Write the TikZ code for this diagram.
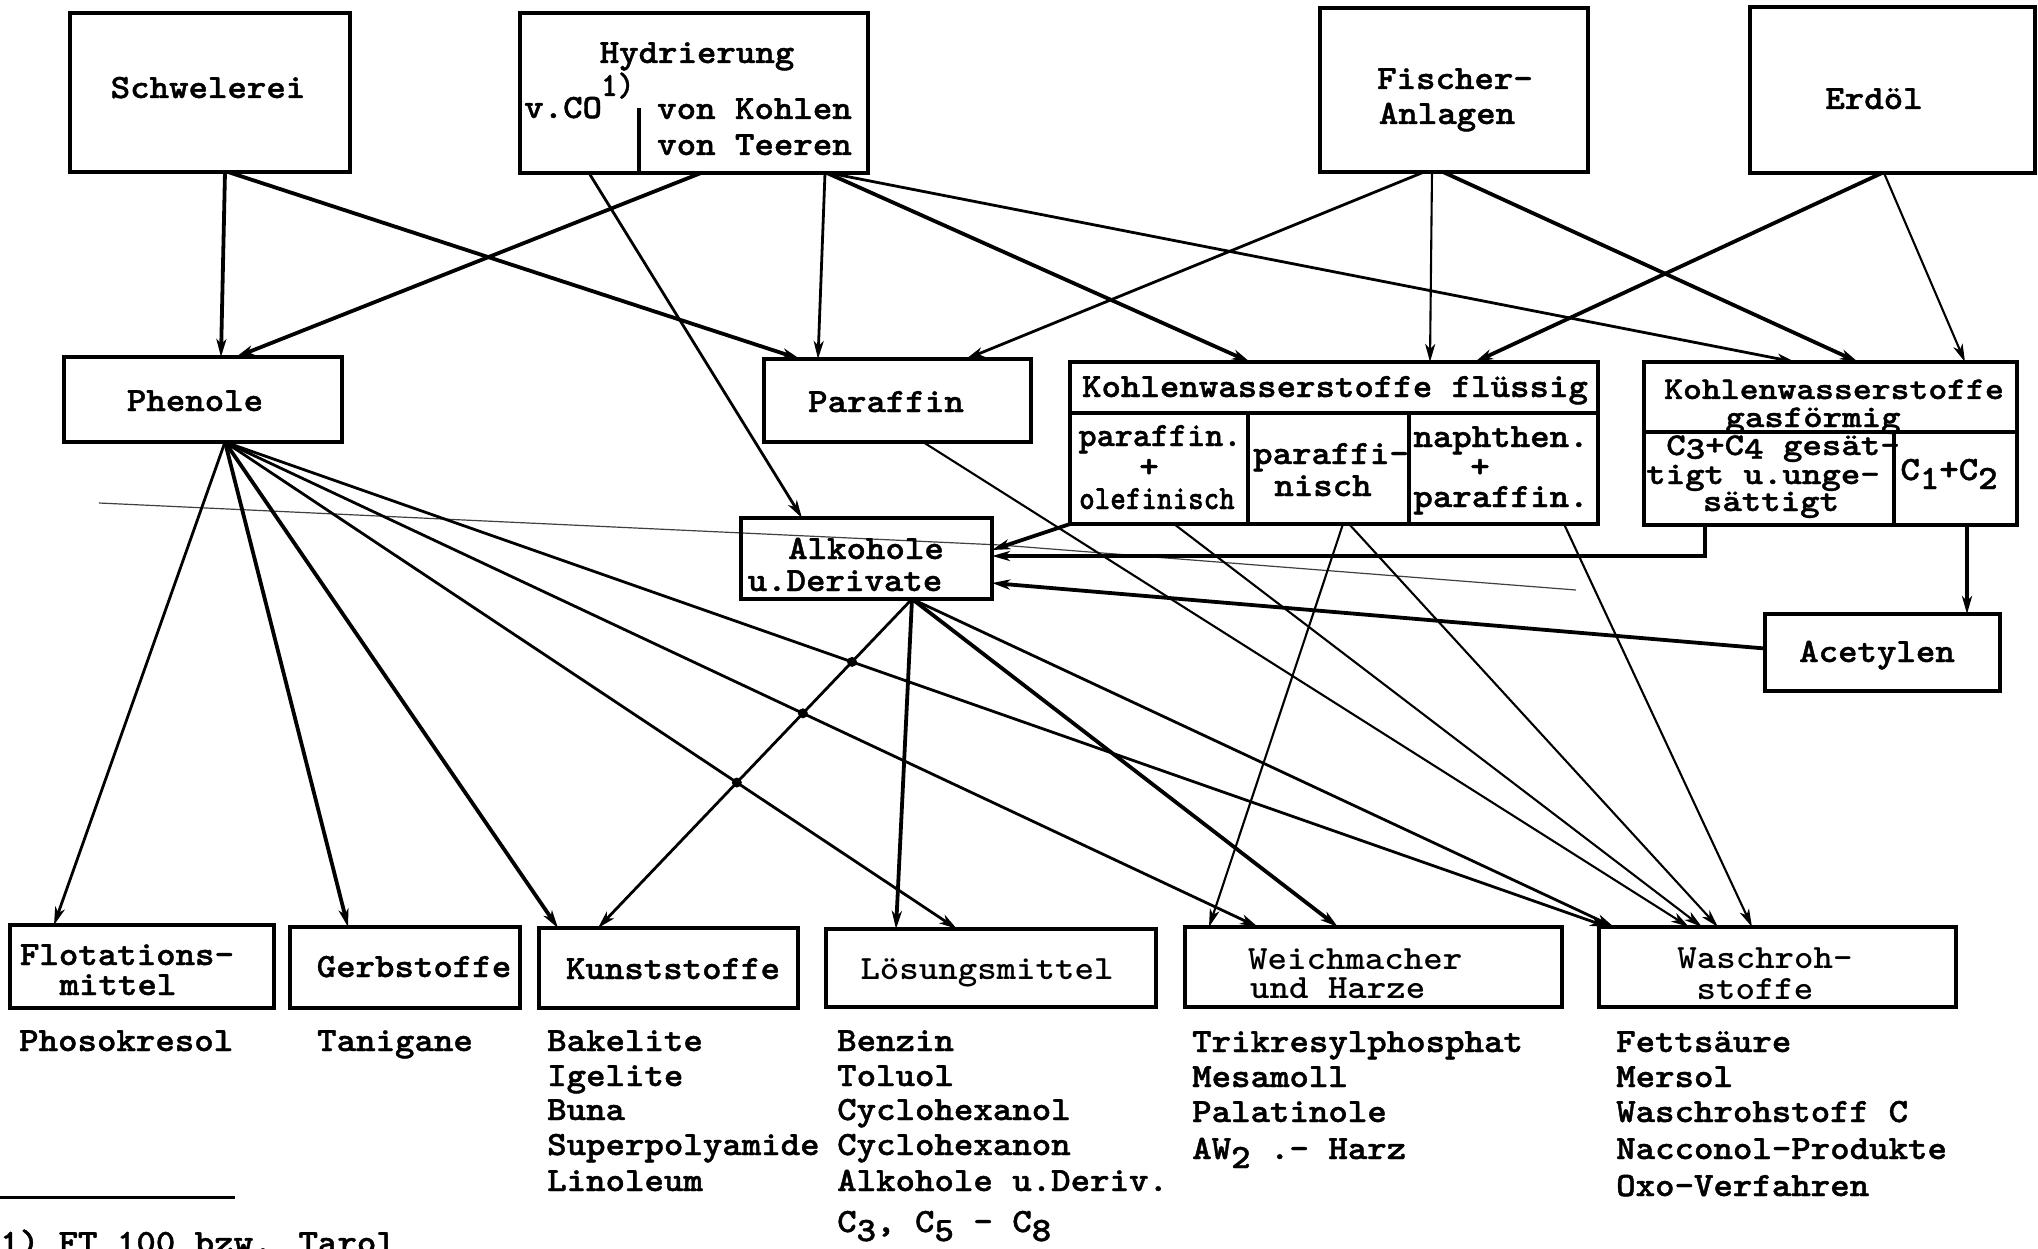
\documentclass[tikz,border=0pt]{standalone}
\usepackage{fontspec}
\newfontfamily\tw{lmmonolt10-bold.otf}[FakeBold=1.2,FakeStretch=1.09]
\newfontfamily\twl{lmmonolt10-bold.otf}[FakeStretch=1.09]
\usetikzlibrary{arrows.meta,intersections}
\newcommand\lowr[1]{\raisebox{-9pt}{#1}}
\newcommand\lowg[1]{\raisebox{-4pt}{#1}}
\newcommand\vsq[1]{\scalebox{1}[0.93]{#1}}
\begin{document}
\begin{tikzpicture}[x=1pt,y=-1pt,
  box/.style={draw,line width=4pt,inner sep=0pt,outer sep=0pt},
  lbl/.style={font=\tw\fontsize{34}{36}\selectfont,inner sep=0pt,anchor=base},
  lgt/.style={lbl,font=\twl\fontsize{34}{36}\selectfont},
  lst/.style={lbl,anchor=base west},
  sep/.style={line width=3.5pt},
  con/.style={-{Stealth[length=18pt,width=10pt,inset=5pt]}},
  thk/.style={con,line width=3.8pt},
  med/.style={con,line width=2.8pt},
  thn/.style={con,line width=2.1pt}]
\fill[white] (0,0) rectangle (2038,1249);
\useasboundingbox (0,0) rectangle (2038,1249);

% stray scan line
\draw[line width=1.2pt,black!75] (99,503) -- (1000,545) -- (1576,590);

% boxes
\node[box,minimum width=280pt,minimum height=159pt] (schw) at (210,92.5) {};
\node[box,minimum width=348pt,minimum height=160pt] (hyd) at (694,93) {};
\node[box,minimum width=268pt,minimum height=164pt] (fis) at (1454,90) {};
\node[box,minimum width=285pt,minimum height=166pt] (erd) at (1892.5,90) {};
\node[box,minimum width=278pt,minimum height=85pt] (phen) at (203,399.5) {};
\node[box,minimum width=267pt,minimum height=83pt] (para) at (897.5,400.5) {};
\node[box,minimum width=528pt,minimum height=162pt] (flu) at (1334,443) {};
\node[box,minimum width=373pt,minimum height=163pt] (gas) at (1830.5,443.5) {};
\node[box,minimum width=251pt,minimum height=81pt] (alk) at (866.5,558.5) {};
\node[box,minimum width=235pt,minimum height=77pt] (acet) at (1882.5,652.5) {};
\node[box,minimum width=264pt,minimum height=83pt] (flot) at (142,966.5) {};
\node[box,minimum width=230pt,minimum height=81pt] (gerb) at (405,967.5) {};
\node[box,minimum width=259pt,minimum height=80pt] (kuns) at (668.5,968) {};
\node[box,minimum width=330pt,minimum height=78pt] (loes) at (991,968) {};
\node[box,minimum width=377pt,minimum height=80pt] (weich) at (1373.5,967) {};
\node[box,minimum width=357pt,minimum height=80pt] (wasch) at (1777.5,967) {};

% inner dividers
\draw[sep] ([xshift=119pt,yshift=65pt]hyd.south west) -- ([xshift=119pt]hyd.south west);
\draw[sep] ([yshift=-51pt]flu.north west) -- ([yshift=-51pt]flu.north east);
\draw[sep] ([xshift=178pt,yshift=-51pt]flu.north west) -- ([xshift=178pt]flu.south west);
\draw[sep] ([xshift=339pt,yshift=-51pt]flu.north west) -- ([xshift=339pt]flu.south west);
\draw[sep] ([yshift=-70pt]gas.north west) -- ([yshift=-70pt]gas.north east);
\draw[sep] ([xshift=250pt,yshift=-70pt]gas.north west) -- ([xshift=250pt]gas.south west);

% labels top
\node[lbl] (tSchw) at (208,98) {Schwelerei};
\node[lbl] (tHyd) at (697,63) {Hydrierung};
\node[lbl,anchor=base west] (tVco) at (524,118) {v.CO};
\node[lbl,anchor=base west] (tSup) at (601,96) {\scalebox{0.85}[1]{1)}};
\node[lbl,anchor=base west] (tKoh) at (657,119) {von Kohlen};
\node[lbl,anchor=base west] (tTee) at (657,155) {von Teeren};
\node[lbl] (tFis1) at (1455,89) {Fischer-};
\node[lbl] (tFis2) at (1447,124) {Anlagen};
\node[lbl] (tErd) at (1874,109) {Erdöl};
% labels middle
\node[lbl] (tPhen) at (195,411) {Phenole};
\node[lbl] (tPara) at (886,412) {Paraffin};
\node[lbl] (tAlk1) at (866,559) {Alkohole};
\node[lbl] (tAlk2) at (845,591) {u.Derivate};
\node[lbl] (tFlu) at (1335,397) {Kohlenwasserstoffe flüssig};
\node[lbl] (tF11) at (1160,446) {\scalebox{0.93}[1]{paraffin.}};
\node[lbl] (tF12) at (1149,477) {+};
\node[lbl] (tF13) at (1157,509) {\scalebox{0.8}[1]{olefinisch}};
\node[lbl] (tF21) at (1331,464) {paraffi-};
\node[lbl] (tF22) at (1323,496) {nisch};
\node[lbl] (tF31) at (1501,447) {naphthen.};
\node[lbl] (tF32) at (1480,477) {+};
\node[lbl] (tF33) at (1501,507) {paraffin.};
\node[lbl] (tGas1) at (1834,399) {\scalebox{0.97}[0.93]{Kohlenwasserstoffe}};
\node[lbl] (tGas2) at (1813,427) {\vsq{gasförmig}};
\node[lbl] (tG11) at (1783,455) {\vsq{C\lowg{3}+C\lowg{4} gesät-}};
\node[lbl] (tG12) at (1763,484) {\vsq{tigt u.unge-}};
\node[lbl] (tG13) at (1771,511) {\vsq{sättigt}};
\node[lbl] (tG2) at (1949,480) {C\lowr{1}+C\lowr{2}};
\node[lbl] (tAce) at (1877,662) {Acetylen};
% labels bottom boxes
\node[lbl] (tFlo1) at (127,965) {Flotations-};
\node[lbl] (tFlo2) at (118,995) {mittel};
\node[lbl] (tGerb) at (414,977) {Gerbstoffe};
\node[lbl] (tKuns) at (673,979) {Kunststoffe};
\node[lgt] (tLoes) at (987,979) {Lösungsmittel};
\node[lgt,anchor=base west] (tWei1) at (1248,969) {Weichmacher};
\node[lgt,anchor=base west] (tWei2) at (1250,998) {und Harze};
\node[lgt] (tWas1) at (1765,968) {Waschroh-};
\node[lgt] (tWas2) at (1755,999) {stoffe};

% lists
\node[lst] (l1) at (19,1051) {Phosokresol};
\node[lst] (l2) at (317,1051) {Tanigane};
\node[lst] (k1) at (547,1051) {Bakelite};
\node[lst] (k2) at (547,1086) {Igelite};
\node[lst] (k3) at (547,1120) {Buna};
\node[lst] (k4) at (547,1155) {Superpolyamide};
\node[lst] (k5) at (547,1191) {Linoleum};
\node[lst] (s1) at (837,1051) {Benzin};
\node[lst] (s2) at (837,1086) {Toluol};
\node[lst] (s3) at (837,1120) {Cyclohexanol};
\node[lst] (s4) at (837,1155) {Cyclohexanon};
\node[lst] (s5) at (837,1191) {Alkohole u.Deriv.};
\node[lst] (s6) at (837,1232) {C\lowr{3}, C\lowr{5} - C\lowr{8}};
\node[lst] (w1) at (1192,1052) {Trikresylphosphat};
\node[lst] (w2) at (1192,1087) {Mesamoll};
\node[lst] (w3) at (1192,1122) {Palatinole};
\node[lst] (w4) at (1192,1159) {AW\lowr{2} .- Harz};
\node[lst] (r1) at (1616,1052) {Fettsäure};
\node[lst] (r2) at (1616,1087) {Mersol};
\node[lst] (r3) at (1616,1122) {Waschrohstoff C};
\node[lst] (r4) at (1616,1159) {Nacconol-Produkte};
\node[lst] (r5) at (1616,1196) {Oxo-Verfahren};

% footnote
\draw[line width=3pt] (0,1197) -- (235,1197);
\node[lst] (fn) at (0,1253) {1) FT 100 bzw. Tarol};

% connectors from top row
\draw[thk] ([xshift=155pt]schw.south west) -- ([xshift=157pt]phen.north west);
\draw[thk] ([xshift=158pt]schw.south west) -- ([xshift=36pt]para.north west);
\draw[thk] ([xshift=181pt]hyd.south west) -- ([xshift=172pt]phen.north west);
\draw[med] ([xshift=69pt]hyd.south west) -- ([xshift=61pt]alk.north west);
\draw[med] ([xshift=305pt]hyd.south west) -- ([xshift=54pt]para.north west);
\draw[thk] ([xshift=307pt]hyd.south west) -- ([xshift=180pt]flu.north west);
\draw[med] ([xshift=309pt]hyd.south west) -- ([xshift=151pt]gas.north west);
\draw[med] ([xshift=104pt]fis.south west) -- ([xshift=202pt]para.north west);
\draw[thn] ([xshift=112pt]fis.south west) -- ([xshift=360pt]flu.north west);
\draw[thk] ([xshift=123pt]fis.south west) -- ([xshift=214pt]gas.north west);
\draw[thk] ([xshift=132pt]erd.south west) -- ([xshift=405pt]flu.north west);
\draw[thn] ([xshift=134pt]erd.south west) -- ([xshift=321pt]gas.north west);

% connectors from Phenole
\draw[med] ([xshift=161pt]phen.south west) -- ([xshift=44pt]flot.north west);
\draw[thk] ([xshift=161pt]phen.south west) -- ([xshift=58pt]gerb.north west);
\draw[thk] ([xshift=161pt]phen.south west) -- ([xshift=19pt]kuns.north west);
\draw[med,name path=phend] ([xshift=161pt]phen.south west) -- ([xshift=131pt]loes.north west);
\draw[med,name path=phene] ([xshift=161pt]phen.south west) -- ([xshift=73pt]weich.north west);
\draw[med,name path=phenf] ([xshift=161pt]phen.south west) -- ([xshift=9pt]wasch.north west);

% connectors from Alkohole
\draw[med,name path=alkkuns] ([xshift=171pt]alk.south west) -- ([xshift=59pt]kuns.north west);
\draw[thk] ([xshift=171pt]alk.south west) -- ([xshift=70pt]loes.north west);
\draw[thk] ([xshift=171pt]alk.south west) -- ([xshift=153pt]weich.north west);
\draw[med] ([xshift=171pt]alk.south west) -- ([xshift=15pt]wasch.north west);

\foreach \p in {phend,phene,phenf}
  \fill[name intersections={of=alkkuns and \p}] (intersection-1) circle[radius=5];

% connectors from Paraffin and liquid hydrocarbons
\draw[thn] ([xshift=159pt]para.south west) -- ([xshift=90pt]wasch.north west);
\draw[thn] ([xshift=104pt]flu.south west) -- ([xshift=103pt]wasch.north west);
\draw[thn] ([xshift=273pt]flu.south west) -- ([xshift=24pt]weich.north west);
\draw[thn] ([xshift=279pt]flu.south west) -- ([xshift=119pt]wasch.north west);
\draw[thn] ([xshift=494pt]flu.south west) -- ([xshift=153pt]wasch.north west);

% into Alkohole from the right
\draw[thk] (flu.south west) -- ([yshift=-32pt]alk.north east);
\draw[thk] ([xshift=61pt]gas.south west) |- ([yshift=-38pt]alk.north east);
\draw[thk] ([yshift=4pt]acet.west) -- ([yshift=-65pt]alk.north east);
\draw[thk] ([xshift=323pt]gas.south west) -- ([xshift=84.5pt]acet.north);
\end{tikzpicture}
\end{document}
